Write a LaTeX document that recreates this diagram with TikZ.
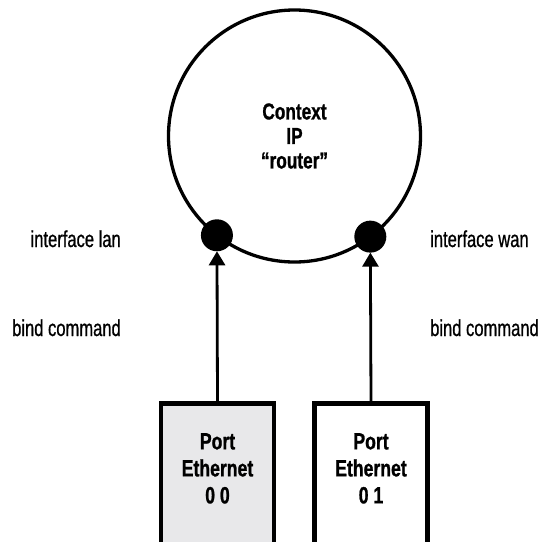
\documentclass[tikz,border=0pt]{standalone}
\usepackage{fontspec}
\setmainfont{Liberation Sans}[FakeStretch=0.72, FakeBold=0.8]
\newfontfamily\headfont{Liberation Sans}[FakeStretch=0.75, FakeBold=1]
\usepackage{tikz}
\usetikzlibrary{arrows.meta, positioning}
\definecolor{portgray}{RGB}{232,232,234}
\tikzstyle{context} = [
    circle,
    draw=black,
    line width=3.3pt,
    minimum size=252pt,
    inner sep=0pt,
    outer sep=0pt,
    align=center,
    font=\headfont\fontsize{23}{24.5}\selectfont\bfseries
]
\tikzstyle{iface} = [
    circle,
    fill=black,
    minimum size=32pt,
    inner sep=0pt,
    outer sep=0pt
]
\tikzstyle{portbox} = [
    rectangle,
    draw=black,
    line width=4.5pt,
    minimum width=113pt,
    minimum height=200pt,
    anchor=north
]
\tikzstyle{porttext} = [
    inner sep=0pt,
    align=center,
    font=\headfont\fontsize{23.5}{27}\selectfont\bfseries
]
\tikzstyle{caption} = [
    inner sep=0pt,
    font=\fontsize{23}{24}\selectfont
]
\tikzstyle{arrow} = [line width=2.8pt, -{Triangle[width=16pt,length=14pt]}]

\begin{document}
\begin{tikzpicture}[x=1pt, y=-1pt]
\useasboundingbox (0,0) rectangle (540,542);
\clip (0,0) rectangle (540,542);

% Nodes
\node (ctx) [context] at (294.5,136) {Context\\IP\\“router”};
\node (lan) [iface] at (ctx.232.9) {};
\node (wan) [iface] at (ctx.307.1) {};
\node (port0) [portbox, fill=portgray] at (217.5,401) {};
\node (port1) [portbox, fill=white] at (371,401) {};
\node (port0text) [porttext, below=32pt of port0.north] {Port\\Ethernet\\0 0};
\node (port1text) [porttext, below=32pt of port1.north] {Port\\Ethernet\\0 1};

% Labels
\node (lanlabel) [caption, anchor=base east] at (121,247) {interface lan};
\node (wanlabel) [caption, anchor=base west] at (430,247) {interface wan};
\node (bindlan) [caption, anchor=base east] at (121,336) {bind command};
\node (bindwan) [caption, anchor=base west] at (430,336) {bind command};

% Arrows
\draw [arrow] (port0.north) -- (lan);
\draw [arrow] (port1.north) -- (wan);

\end{tikzpicture}
\end{document}
